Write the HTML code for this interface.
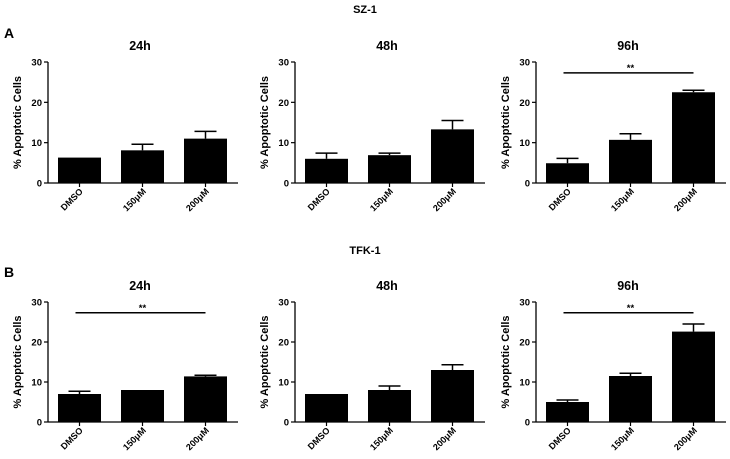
<!DOCTYPE html>
<html><head><meta charset="utf-8"><style>
body{margin:0;background:#fff;}
svg{display:block;font-family:"Liberation Sans",Arial,sans-serif;}
</style></head><body>
<svg id="fig" width="730" height="459" viewBox="0 0 730 459">
<text x="365" y="13" text-anchor="middle" font-size="11" font-weight="bold">SZ-1</text>
<text x="365" y="254" text-anchor="middle" font-size="11" font-weight="bold">TFK-1</text>
<text x="4" y="38" font-size="14" font-weight="bold">A</text>
<text x="4" y="277" font-size="14" font-weight="bold">B</text>
</svg>
<script>
const categories = ["DMSO","150μM","200μM"];
const panelTitles = ["24h","48h","96h","24h","48h","96h"];
const meanA24=[6.3,8.1,11.0], errA24=[0,1.5,1.8];
const meanA48=[6.0,6.9,13.3], errA48=[1.4,0.5,2.2];
const meanA96=[4.9,10.7,22.5], errA96=[1.2,1.5,0.5];
const meanB24=[7.0,8.0,11.4], errB24=[0.7,0,0.3];
const meanB48=[7.0,8.0,13.0], errB48=[0,1.0,1.3];
const meanB96=[5.0,11.5,22.6], errB96=[0.5,0.7,1.9];
const sigFlags=[false,false,true,true,false,true];
const sigLevel=27.3;
const yTicks=[0,10,20,30];
const yMax=30;

const means=[meanA24,meanA48,meanA96,meanB24,meanB48,meanB96];
const errs=[errA24,errA48,errA96,errB24,errB48,errB96];
const axisX=[48,295,536];
const rowTop=[62,302], rowBottom=[183,422];
const svg=document.getElementById('fig');
const NS='http://www.w3.org/2000/svg';
function mk(t,a,txt){const e=document.createElementNS(NS,t);for(const k in a)e.setAttribute(k,a[k]);if(txt!==undefined)e.textContent=txt;svg.appendChild(e);return e;}
for(let p=0;p<6;p++){
  const r=Math.floor(p/3), c=p%3;
  const ax=axisX[c], y0=rowBottom[r], y30=rowTop[r];
  const yS=v=>y0-(v/yMax)*(y0-y30);
  const xS=i=>ax+10+i*63;
  const bw=43;
  let e=mk('text',{x:ax+92,y:y30-12,'text-anchor':'middle','font-size':12.5,'font-weight':'bold'},panelTitles[p]);
  
  
  e=mk('line',{x1:ax,y1:y30,x2:ax,y2:y0,stroke:'#000','stroke-width':1.3});
  
  
  e=mk('line',{x1:ax,y1:y0,x2:ax+190,y2:y0,stroke:'#000','stroke-width':1.3});
  
  
  yTicks.forEach(t=>{
    const y=yS(t);
    let l=mk('line',{x1:ax-4,y1:y,x2:ax,y2:y,stroke:'#000','stroke-width':1.2});
    
    
    let tx=mk('text',{x:ax-6,y:y+3.5,'text-anchor':'end','font-size':9.5,'font-weight':'bold'},String(t));
    
    
  });
  const my=(y0+y30)/2;
  e=mk('text',{x:0,y:0,'text-anchor':'middle','font-size':11,'font-weight':'bold',transform:`translate(${ax-27},${my}) rotate(-90)`},'% Apoptotic Cells');
  
  
  categories.forEach((cat,i)=>{
    const x=xS(i), v=means[p][i], er=errs[p][i], cx=x+bw/2;
    let b=mk('rect',{x:x,y:yS(v),width:bw,height:y0-yS(v),fill:'#000'});
    
    
    if(er>0){
      let l=mk('line',{x1:cx,y1:yS(v),x2:cx,y2:yS(v+er),stroke:'#000','stroke-width':1.5});
      
      
      let cap=mk('line',{x1:cx-11,y1:yS(v+er),x2:cx+11,y2:yS(v+er),stroke:'#000','stroke-width':1.5});
      
      
    }
    let t=mk('line',{x1:cx,y1:y0,x2:cx,y2:y0+4,stroke:'#000','stroke-width':1.2});
    
    
    let lb=mk('text',{x:0,y:0,'text-anchor':'end','font-size':9,'font-weight':'bold',transform:`translate(${cx+4},${y0+9}) rotate(-45)`},cat);
    
    
  });
  if(sigFlags[p]){
    const ys=yS(sigLevel);
    let l=mk('line',{x1:xS(0)+bw/2-4,y1:ys,x2:xS(2)+bw/2,y2:ys,stroke:'#000','stroke-width':1.5});
    
    
    let s=mk('text',{x:(xS(0)+xS(2))/2+bw/2,y:ys-2,'text-anchor':'middle','font-size':9.5,'font-weight':'bold'},'**');
    
    
  }
}
</script>
</body></html>
